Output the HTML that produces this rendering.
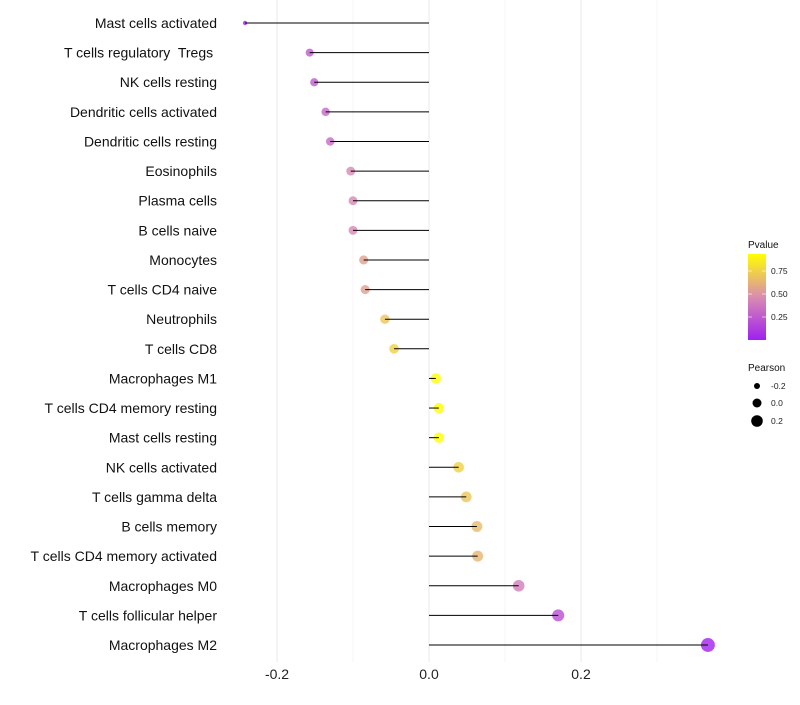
<!DOCTYPE html>
<html><head><meta charset="utf-8"><style>
body{margin:0;background:#fff;font-family:"Liberation Sans",sans-serif}
</style></head><body>
<svg id="c" width="800" height="700" xmlns="http://www.w3.org/2000/svg">
<defs><linearGradient id="pg" x1="0" y1="1" x2="0" y2="0">
<stop offset="0" stop-color="#a020f0"/><stop offset="0.5" stop-color="#d98cb0"/><stop offset="1" stop-color="#ffff00"/>
</linearGradient></defs>
</svg>
<script>
const categories=["Mast cells activated","T cells regulatory  Tregs ","NK cells resting","Dendritic cells activated","Dendritic cells resting","Eosinophils","Plasma cells","B cells naive","Monocytes","T cells CD4 naive","Neutrophils","T cells CD8","Macrophages M1","T cells CD4 memory resting","Mast cells resting","NK cells activated","T cells gamma delta","B cells memory","T cells CD4 memory activated","Macrophages M0","T cells follicular helper","Macrophages M2"];
const pearson=[-0.242,-0.157,-0.151,-0.136,-0.130,-0.103,-0.100,-0.100,-0.086,-0.084,-0.058,-0.046,0.009,0.013,0.013,0.039,0.049,0.063,0.064,0.118,0.170,0.367];
const pvalue=[0.01,0.25,0.25,0.3,0.32,0.45,0.45,0.45,0.55,0.55,0.7,0.75,0.95,0.93,0.93,0.75,0.7,0.65,0.63,0.4,0.2,0.01];
const xTicks=[-0.2,0,0.2];
const xTickLabels=["-0.2","0.0","0.2"];
const xMinor=[-0.1,0.1,0.3];
const svg=document.getElementById('c');
const NS="http://www.w3.org/2000/svg";
const x=v=>429+v*760;
const y=i=>23+i*(622/21);
const r=v=>v<-0.2?2.2:Math.sqrt(Math.max(26+62*v,4));
function lerp(a,b,t){return a.map((c,i)=>Math.round(c+(b[i]-c)*t));}
function col(p){const t=Math.min(p/0.93,1);const s=[[160,32,240],[217,140,176],[255,255,0]];
 const c=t<0.5?lerp(s[0],s[1],t/0.5):lerp(s[1],s[2],(t-0.5)/0.5);return `rgb(${c})`;}
function mk(tag,at,par){const e=document.createElementNS(NS,tag);for(const k in at)e.setAttribute(k,at[k]);(par||svg).appendChild(e);return e;}
xMinor.forEach(v=>{const l=mk('line',{x1:x(v),x2:x(v),y1:0,y2:662,stroke:'#f5f5f5','stroke-width':1});

});
xTicks.forEach((v,i)=>{const l=mk('line',{x1:x(v),x2:x(v),y1:0,y2:662,stroke:'#ececec','stroke-width':1.2});


const t=mk('text',{x:x(v),y:679,'text-anchor':'middle','font-size':14,fill:'#222'});t.textContent=xTickLabels[i];

});
categories.forEach((c,i)=>{
 const t=mk('text',{x:217,y:y(i)+5,'text-anchor':'end','font-size':14,fill:'#111'});t.textContent=c;
 t.setAttributeNS('http://www.w3.org/XML/1998/namespace','xml:space','preserve');
 
 
 const d=mk('circle',{cx:x(pearson[i]),cy:y(i),r:r(pearson[i]),fill:col(pvalue[i]),'fill-opacity':0.8});
 
 
 const l=mk('line',{x1:x(0),x2:x(pearson[i]),y1:y(i),y2:y(i),stroke:'#000','stroke-width':1});
 
 
});
const g=mk('g',{});


mk('text',{x:748,y:248,'font-size':10,fill:'#111'},g).textContent='Pvalue';
mk('rect',{x:748,y:254,width:18,height:86,fill:'url(#pg)'},g);
[[0.75,271],[0.50,294],[0.25,317]].forEach(a=>{
 mk('line',{x1:748,x2:752,y1:a[1],y2:a[1],stroke:'#fff','stroke-opacity':0.6},g);
 mk('line',{x1:762,x2:766,y1:a[1],y2:a[1],stroke:'#fff','stroke-opacity':0.6},g);
 mk('text',{x:771,y:a[1]+3,'font-size':8.5,fill:'#222'},g).textContent=a[0].toFixed(2);});
mk('text',{x:748,y:371,'font-size':10,fill:'#111'},g).textContent='Pearson';
[[-0.2,'-0.2',386,3],[0,'0.0',403,4.5],[0.2,'0.2',421,5.8]].forEach(a=>{
 mk('circle',{cx:757,cy:a[2],r:a[3],fill:'#000'},g);
 mk('text',{x:771,y:a[2]+3,'font-size':8.5,fill:'#222'},g).textContent=a[1];});
</script>
</body></html>
